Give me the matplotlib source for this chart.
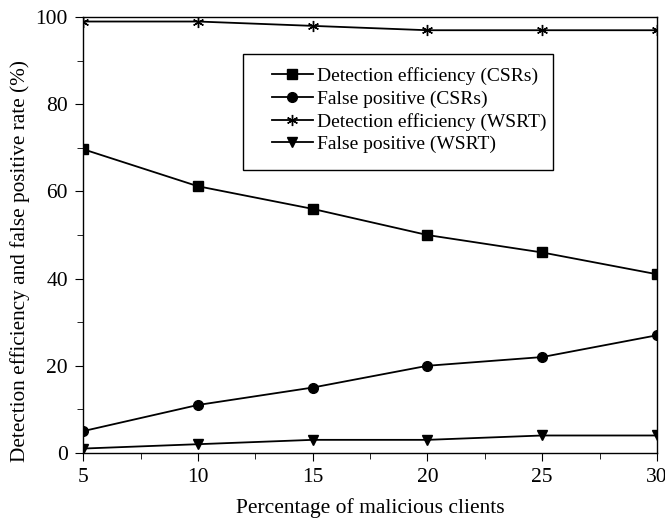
import matplotlib
matplotlib.use("Agg")
import matplotlib.pyplot as plt
from matplotlib.patches import Rectangle
from matplotlib.ticker import MultipleLocator

plt.rcParams['font.family'] = ['Liberation Serif', 'DejaVu Serif']

clients = [5, 10, 15, 20, 25, 30]
det_csr = [69.7, 61.2, 56, 50, 46, 41]
fp_csr = [5, 11, 15, 20, 22, 27]
det_wsrt = [99, 99, 98, 97, 97, 97]
fp_wsrt = [1, 2, 3, 3, 4, 4]

labels = ['Detection efficiency (CSRs)', 'False positive (CSRs)',
          'Detection efficiency (WSRT)', 'False positive (WSRT)']

fig = plt.figure(figsize=(6.65, 5.2), dpi=100)
ax = fig.add_axes([0.125, 0.129, 0.863, 0.838])

ax.plot(clients, det_csr, 'k-', marker='s', ms=7, lw=1.3, label=labels[0])
ax.plot(clients, fp_csr, 'k-', marker='o', ms=7, lw=1.3, label=labels[1])
ax.plot(clients, det_wsrt, 'k-', marker=(6, 2, 0), ms=8, mew=1.0, lw=1.3, label=labels[2])
ax.plot(clients, fp_wsrt, 'k-', marker='v', ms=7, lw=1.3, label=labels[3])

ax.set_xlim(5, 30)
ax.set_ylim(0, 100)
ax.xaxis.set_major_locator(MultipleLocator(5))
ax.xaxis.set_minor_locator(MultipleLocator(2.5))
ax.yaxis.set_major_locator(MultipleLocator(20))
ax.yaxis.set_minor_locator(MultipleLocator(10))
ax.tick_params(which='both', direction='out', labelsize=15.5, top=False, right=False)
ax.tick_params(which='major', length=6, pad=5)
ax.tick_params(which='minor', length=4)
for s in ax.spines.values():
    s.set_linewidth(1.0)

ax.set_xlabel('Percentage of malicious clients', fontsize=15.5, labelpad=8)
ax.set_ylabel('Detection efficiency and false positive rate (%)', fontsize=15.3)
ax.yaxis.set_label_coords(-0.093, 0.44)

# legend without its own frame, box drawn separately to get the wide left margin
leg = ax.legend(loc='upper left', bbox_to_anchor=(0.329, 0.885), fontsize=14,
                frameon=False, handlelength=2.1, handletextpad=0.2,
                labelspacing=0.25, borderpad=0, borderaxespad=0)
ax.add_patch(Rectangle((0.279, 0.649), 0.540, 0.266, transform=ax.transAxes,
                       fill=False, ec='black', lw=1.0, zorder=5))

fig.savefig('out.png', dpi=100)
